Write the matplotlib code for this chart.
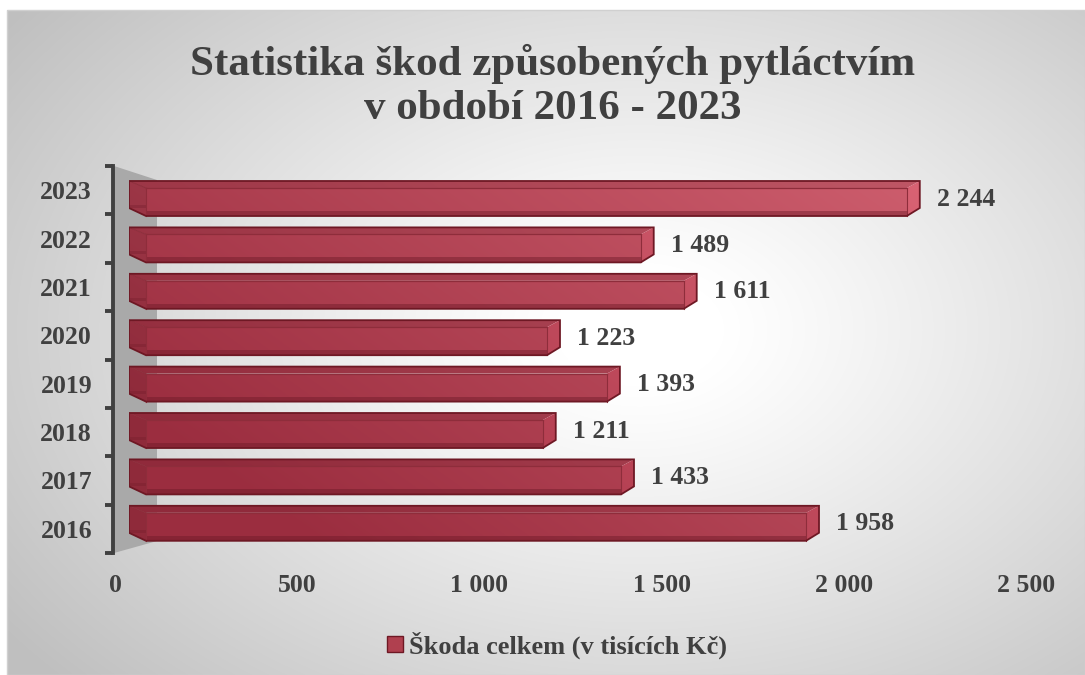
import numpy as np
import matplotlib
matplotlib.use("Agg")
import matplotlib.pyplot as plt
from matplotlib.patches import Polygon, Rectangle, Patch

# ---------------- data ----------------
years = ["2016", "2017", "2018", "2019", "2020", "2021", "2022", "2023"]
values = [1958, 1433, 1211, 1393, 1223, 1611, 1489, 2244]
x_ticks = [0, 500, 1000, 1500, 2000, 2500]
x_tick_labels = ["0", "500", "1 000", "1 500", "2 000", "2 500"]
title = "Statistika škod způsobených pytláctvím\nv období 2016 - 2023"
legend_label = "Škoda celkem (v tisících Kč)"

# ---------------- setup ----------------
W, H = 1085, 675
DPI = 100
plt.rcParams['font.family'] = ['Liberation Serif', 'DejaVu Serif']
plt.rcParams['font.weight'] = 'bold'
TXT = '#404040'

fig = plt.figure(figsize=(W / DPI, H / DPI), dpi=DPI)
fig.patch.set_facecolor('white')


def fx(px):
    return px / W


def fy(py):
    return 1 - py / H


# ---------------- background (radial gradient) ----------------
ax_bg = fig.add_axes([0, 0, 1, 1], zorder=-10)
ax_bg.set_axis_off()
X, Y = np.meshgrid(np.arange(W) + 0.5, np.arange(H) + 0.5)
r = np.sqrt(((X - 640) / 700) ** 2 + ((Y - 330) / 470) ** 2)
val = (255 - 64 * np.clip((r - 0.12) / 1.0, 0, 1) ** 1.1) / 255
img = np.dstack([val, val, val])
img[(X < 7) | (Y < 10)] = 1.0
ax_bg.imshow(img, extent=[0, W, H, 0], aspect='auto', interpolation='bilinear')
ax_bg.set_xlim(0, W)
ax_bg.set_ylim(H, 0)
ax_bg.add_patch(Rectangle((7, 10), W - 7.5, H - 10.5, fill=False, ec='#d0d0d0', lw=1))
# side wall
ax_bg.add_patch(Polygon([(114, 166), (157, 180), (157, 541), (114, 553)],
                        closed=True, fc='#a9a9a9', ec='none'))

# ---------------- axis (labels / ticks) ----------------
ax_ax = fig.add_axes([fx(115), fy(553), (1026 - 115) / W, (553 - 166) / H])
ax_ax.patch.set_visible(False)
ax_ax.set_xlim(0, 2500)
ax_ax.set_ylim(-0.5, 7.5)
for s in ['top', 'right', 'bottom']:
    ax_ax.spines[s].set_visible(False)
ax_ax.spines['left'].set_color('#404040')
ax_ax.spines['left'].set_linewidth(2.8)
ax_ax.spines['left'].set_position(('outward', 1.5))
ax_ax.set_yticks(range(len(years)))
ax_ax.set_yticklabels(years)
ax_ax.set_yticks(np.arange(-0.5, len(years), 1), minor=True)
ax_ax.tick_params(axis='y', which='major', length=0, pad=15, labelsize=18.5, labelcolor=TXT)
ax_ax.tick_params(axis='y', which='minor', length=6, width=2.8, color='#404040', direction='out')
ax_ax.set_xticks(x_ticks)
ax_ax.set_xticklabels(x_tick_labels)
ax_ax.tick_params(axis='x', length=0, pad=15, labelsize=18.5, labelcolor=TXT)

# ---------------- bars ----------------
bl, br = 129, 1010          # pixel positions of value 0 and 2500 for bars
btop, bbot = 175.3, 546.5   # pixel positions of y=7.5 and y=-0.5
ax_b = fig.add_axes([fx(bl), fy(bbot), (br - bl) / W, (bbot - btop) / H])
ax_b.set_axis_off()
ax_b.set_xlim(0, 2500)
ax_b.set_ylim(-0.5, 7.5)
sx = (br - bl) / 2500.0
sy = (bbot - btop) / 8.0

# colour field for bar shading (lighter toward upper right)
xs = np.linspace(0, 2500, 500)
ys = np.linspace(-0.9, 7.9, 300)
GX, GY = np.meshgrid(xs, ys)
Xp = bl + GX * sx
Yp = (bbot - 0.5 * sy) - GY * sy
t = np.clip(0.2 + 0.62 * (Xp - 129) / 880 - 0.32 * (Yp - 198) / 325, 0, 1)
dark = np.array([0.61, 0.18, 0.25])
light = np.array([0.86, 0.42, 0.48])
field = dark[None, None, :] * (1 - t[..., None]) + light[None, None, :] * t[..., None]
ext = [0, 2500, -0.9, 7.9]


def shaded(poly_pts, factor, z):
    p = Polygon(poly_pts, closed=True, fc='none', ec='none', zorder=z)
    ax_b.add_patch(p)
    im = ax_b.imshow(np.clip(field * factor, 0, 1), extent=ext, origin='lower',
                     aspect='auto', interpolation='bilinear', zorder=z)
    im.set_clip_path(p)


dl, dr = 17 / sx, 13 / sx
for i, v in enumerate(values):
    yc = i
    bt = yc + 17.5 / sy
    bb = yc - 9.5 / sy
    ft = yc + 10.5 / sy
    fb = yc - 17.5 / sy
    z = 2 + i * 0.01
    # top face
    shaded([(0, bt), (v, bt), (v - dr, ft), (dl, ft)], 0.93, z)
    # left cap
    shaded([(0, bt), (dl, ft), (dl, fb), (0, bb)], 0.92, z)
    # right cap
    shaded([(v, bt), (v - dr, ft), (v - dr, fb), (v, bb)], 1.06, z)
    # front face
    shaded([(dl, ft), (v - dr, ft), (v - dr, fb), (dl, fb)], 1.0, z)
    # dark bottom strip
    ax_b.add_patch(Rectangle((dl, fb), v - dr - dl, 5 / sy, fc='#6e1a28', alpha=0.45,
                             ec='none', zorder=z + 0.001))
    ax_b.add_patch(Rectangle((0, bb), dl, 3 / sy, fc='#6e1a28', alpha=0.3,
                             ec='none', zorder=z + 0.001))
    # inner edges
    ax_b.plot([dl, v - dr], [ft, ft], color='#8e2d3b', lw=0.9, zorder=z + 0.002)
    ax_b.plot([dl, dl], [ft, fb], color='#8e2d3b', lw=0.8, zorder=z + 0.002)
    ax_b.plot([v - dr, v - dr], [ft, fb], color='#8e2d3b', lw=0.8, zorder=z + 0.002)
    ax_b.plot([0, dl], [bt, ft], color='#8e2d3b', lw=0.7, zorder=z + 0.002)
    # outline
    ax_b.add_patch(Polygon([(0, bt), (v, bt), (v, bb), (v - dr, fb), (dl, fb), (0, bb)],
                           closed=True, fc='none', ec='#6e1824', lw=1.3, zorder=z + 0.003))
    # data label
    ax_b.annotate(f"{v:,}".replace(",", " "), xy=(v, yc), xytext=(12.5, -0.5),
                  textcoords='offset points', ha='left', va='center',
                  fontsize=18.5, color=TXT, zorder=10)

# ---------------- title ----------------
fig.text(fx(553), fy(86), title, ha='center', va='center', fontsize=31,
         color=TXT, linespacing=1.2)

# ---------------- legend ----------------
handle = Patch(fc='#b0404f', ec='#6e1824', lw=1)
fig.legend(handles=[handle], labels=[legend_label], loc='center',
           bbox_to_anchor=(fx(557), fy(645)), frameon=False, fontsize=19,
           handlelength=0.6, handleheight=0.6, handletextpad=0.25, labelcolor=TXT)

fig.savefig("out.png", dpi=DPI)
